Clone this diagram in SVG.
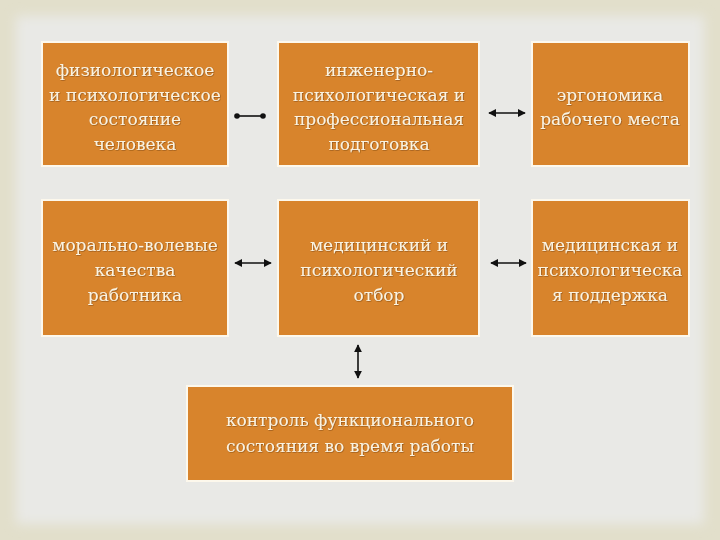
<svg xmlns="http://www.w3.org/2000/svg" width="720" height="540" viewBox="0 0 720 540">
<defs>
<style>
.box{fill:#d8842c;stroke:#fdf8ec;stroke-width:2}
.t{font-family:"DejaVu Serif","Liberation Serif",serif;font-size:17px;fill:#fbf3e0;text-anchor:middle}
.c{stroke:#111;stroke-width:1.6;fill:none}
</style>
<marker id="ah" viewBox="0 0 10 10" refX="9" refY="5" markerWidth="5" markerHeight="5" orient="auto-start-reverse"><path d="M0,0 L10,5 L0,10 z" fill="#111"/></marker>
<marker id="dot" viewBox="0 0 10 10" refX="5" refY="5" markerWidth="3.5" markerHeight="3.5"><circle cx="5" cy="5" r="5" fill="#111"/></marker>
<filter id="bl" x="-10%" y="-10%" width="120%" height="120%"><feGaussianBlur stdDeviation="6"/></filter>
<filter id="sh"><feDropShadow dx="0.6" dy="0.6" stdDeviation="0.4" flood-color="#6a3a0a" flood-opacity="0.7"/></filter>
</defs>
<rect width="720" height="540" fill="#e2dfcb"/>
<rect x="16" y="16" width="688" height="508" fill="#e9e9e6" filter="url(#bl)"/>
<g id="n1"><rect class="box" x="42" y="42" width="186" height="124"/>
<g class="t" filter="url(#sh)"><text x="135" y="76">физиологическое</text><text x="135" y="101">и психологическое</text><text x="135" y="125">состояние</text><text x="135" y="150">человека</text></g></g>
<g id="n2"><rect class="box" x="278" y="42" width="201" height="124"/>
<g class="t" filter="url(#sh)"><text x="379" y="76">инженерно-</text><text x="379" y="101">психологическая и</text><text x="379" y="125">профессиональная</text><text x="379" y="150">подготовка</text></g></g>
<g id="n3"><rect class="box" x="532" y="42" width="157" height="124"/>
<g class="t" filter="url(#sh)"><text x="610" y="101">эргономика</text><text x="610" y="125">рабочего места</text></g></g>
<g id="n4"><rect class="box" x="42" y="200" width="186" height="136"/>
<g class="t" filter="url(#sh)"><text x="135" y="251">морально-волевые</text><text x="135" y="276">качества</text><text x="135" y="301">работника</text></g></g>
<g id="n5"><rect class="box" x="278" y="200" width="201" height="136"/>
<g class="t" filter="url(#sh)"><text x="379" y="251">медицинский и</text><text x="379" y="276">психологический</text><text x="379" y="301">отбор</text></g></g>
<g id="n6"><rect class="box" x="532" y="200" width="157" height="136"/>
<g class="t" filter="url(#sh)"><text x="610" y="251">медицинская и</text><text x="610" y="276">психологическа</text><text x="610" y="301">я поддержка</text></g></g>
<g id="n7"><rect class="box" x="187" y="386" width="326" height="95"/>
<g class="t" filter="url(#sh)"><text x="350" y="426">контроль функционального</text><text x="350" y="452">состояния во время работы</text></g></g>
<g id="connectors">
<line class="c" x1="237" y1="116" x2="263" y2="116" marker-start="url(#dot)" marker-end="url(#dot)"/>
<line class="c" x1="489" y1="113" x2="525" y2="113" marker-start="url(#ah)" marker-end="url(#ah)"/>
<line class="c" x1="235" y1="263" x2="271" y2="263" marker-start="url(#ah)" marker-end="url(#ah)"/>
<line class="c" x1="491" y1="263" x2="526" y2="263" marker-start="url(#ah)" marker-end="url(#ah)"/>
<line class="c" x1="358" y1="345" x2="358" y2="378" marker-start="url(#ah)" marker-end="url(#ah)"/>
</g>
</svg>
